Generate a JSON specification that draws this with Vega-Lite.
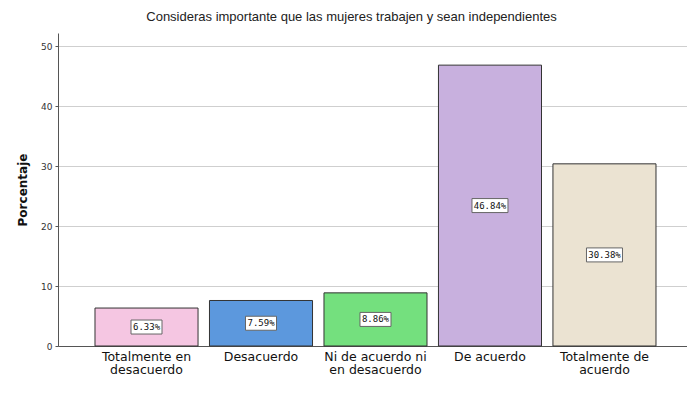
{
  "$schema": "https://vega.github.io/schema/vega-lite/v6.json",
  "width": 629,
  "height": 313,
  "autosize": {"type": "none"},
  "padding": {"left": 58, "top": 33, "right": 0, "bottom": 66},
  "background": "white",
  "title": {
    "text": "Consideras importante que las mujeres trabajen y sean independientes",
    "font": "Liberation Sans",
    "fontSize": 13,
    "fontWeight": "normal",
    "color": "#222222",
    "anchor": "middle",
    "frame": "group",
    "dx": -21,
    "offset": 9
  },
  "data": {
    "values": [
      {"cat": "Totalmente en desacuerdo", "pct": 6.33, "label": "6.33%", "color": "#f5c6e2"},
      {"cat": "Desacuerdo", "pct": 7.59, "label": "7.59%", "color": "#5c98dd"},
      {"cat": "Ni de acuerdo ni en desacuerdo", "pct": 8.86, "label": "8.86%", "color": "#74e07e"},
      {"cat": "De acuerdo", "pct": 46.84, "label": "46.84%", "color": "#c8b0de"},
      {"cat": "Totalmente de acuerdo", "pct": 30.38, "label": "30.38%", "color": "#ebe3d2"}
    ]
  },
  "transform": [{"calculate": "datum.pct / 2", "as": "mid"}],
  "encoding": {
    "x": {
      "field": "cat",
      "type": "nominal",
      "sort": null,
      "scale": {"paddingInner": 0.1, "paddingOuter": 0.297, "align": 0.544},
      "axis": {
        "title": null,
        "labelAngle": 0,
        "ticks": false,
        "domain": true,
        "domainColor": "#555555",
        "domainWidth": 1,
        "labelFont": "DejaVu Sans",
        "labelFontSize": 12.5,
        "labelColor": "#111111",
        "labelPadding": 4,
        "labelLineHeight": 13,
        "labelBaseline": "top",
        "labelExpr": "datum.value == 'Totalmente en desacuerdo' ? ['Totalmente en', 'desacuerdo'] : datum.value == 'Ni de acuerdo ni en desacuerdo' ? ['Ni de acuerdo ni', 'en desacuerdo'] : datum.value == 'Totalmente de acuerdo' ? ['Totalmente de', 'acuerdo'] : datum.value"
      }
    }
  },
  "layer": [
    {
      "mark": {"type": "bar", "stroke": "#333333", "strokeWidth": 1},
      "encoding": {
        "y": {
          "field": "pct",
          "type": "quantitative",
          "scale": {"domain": [0, 52.2], "nice": false},
          "axis": {
            "title": "Porcentaje",
            "titleFont": "DejaVu Sans",
            "titleFontSize": 12,
            "titleFontWeight": "bold",
            "titleColor": "#111111",
            "titlePadding": 11,
            "values": [0, 10, 20, 30, 40, 50],
            "labelFont": "DejaVu Sans",
            "labelFontSize": 9,
            "labelColor": "#333333",
            "tickSize": 3,
            "tickColor": "#555555",
            "labelPadding": 3,
            "domainColor": "#555555",
            "grid": true,
            "gridColor": "#cfcfcf",
            "gridWidth": 1
          }
        },
        "fill": {"field": "color", "type": "nominal", "scale": null}
      }
    },
    {
      "mark": {
        "type": "bar",
        "fill": "white",
        "stroke": "#666666",
        "strokeWidth": 1,
        "width": {"expr": "datum.pct >= 10 ? 36 : 31"},
        "yOffset": -7,
        "y2Offset": 7
      },
      "encoding": {
        "y": {"field": "mid", "type": "quantitative"},
        "y2": {"field": "mid"}
      }
    },
    {
      "mark": {
        "type": "text",
        "font": "DejaVu Sans Mono",
        "fontSize": 9,
        "color": "#111111",
        "baseline": "middle",
        "align": "center"
      },
      "encoding": {
        "y": {"field": "mid", "type": "quantitative"},
        "text": {"field": "label"}
      }
    }
  ],
  "config": {"view": {"stroke": null}, "axis": {"gridDash": []}}
}
